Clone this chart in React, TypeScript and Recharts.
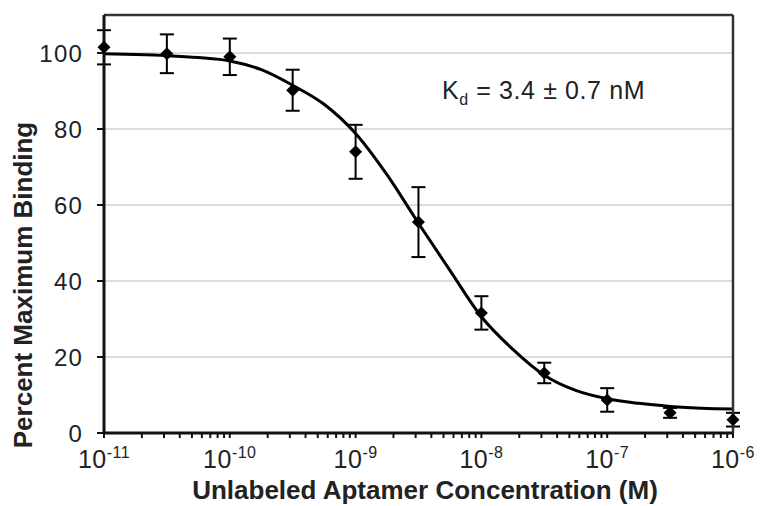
import React from 'react';
import { ComposedChart, Line, Scatter, ErrorBar, XAxis, YAxis, CartesianGrid } from 'recharts';

// Measured points (concentration in M, percent maximum binding, error)
const pointConc = [1e-11, 3.16e-11, 1e-10, 3.16e-10, 1e-9, 3.16e-9, 1e-8, 3.16e-8, 1e-7, 3.16e-7, 1e-6];
const pointBinding = [101.5, 99.8, 99.0, 90.2, 74.0, 55.5, 31.6, 15.8, 8.7, 5.3, 3.5];
const pointError = [4.5, 5.1, 4.8, 5.4, 7.1, 9.2, 4.4, 2.7, 3.1, 1.3, 1.8];

// Fitted curve
const fitConc = [
  1e-11, 1.78e-11, 3.16e-11, 5.62e-11, 1e-10, 1.78e-10, 3.16e-10, 5.62e-10, 1e-9, 1.78e-9, 3.16e-9,
  5.62e-9, 1e-8, 1.78e-8, 3.16e-8, 5.62e-8, 1e-7, 1.78e-7, 3.16e-7, 5.62e-7, 1e-6,
];
const fitBinding = [
  99.8, 99.6, 99.3, 98.8, 97.9, 95.6, 91.5, 86.5, 78.8, 67.9, 55.2, 42.8, 30.6, 22.0, 15.2, 11.2, 9.0,
  7.8, 7.0, 6.5, 6.3,
];

const majorTicks = [1e-11, 1e-10, 1e-9, 1e-8, 1e-7, 1e-6];
const majorTickExponents = ['-11', '-10', '-9', '-8', '-7', '-6'];
const minorMultipliers = [2, 3, 4, 5, 6, 7, 8, 9];
const minorDecades = [1e-11, 1e-10, 1e-9, 1e-8, 1e-7];
const yTicks = [0, 20, 40, 60, 80, 100];

const xDomain: [number, number] = [1e-11, 1e-6];
const yDomain: [number, number] = [0, 110];

const xTitle = 'Unlabeled Aptamer Concentration (M)';
const yTitle = 'Percent Maximum Binding';
const kdMain = 'K';
const kdSub = 'd';
const kdRest = ' = 3.4 ± 0.7 nM';

const FONT = '"Liberation Sans", Arial, Helvetica, sans-serif';

const pointData = pointConc.map((x, i) => ({ x, y: pointBinding[i], err: pointError[i] }));
const fitData = fitConc.map((x, i) => ({ x, y: fitBinding[i] }));
const minorTicks: number[] = [];
minorDecades.forEach((d) => minorMultipliers.forEach((m) => minorTicks.push(d * m)));
const allXTicks = [...majorTicks, ...minorTicks].sort((a, b) => a - b);

const findMajor = (v: number) =>
  majorTicks.findIndex((t) => Math.abs(Math.log10(t) - Math.log10(v)) < 1e-6);

const XTick = (props: any) => {
  const { x, y, payload } = props;
  const idx = findMajor(payload.value);
  if (idx < 0) return <g />;
  return (
    <text x={x} y={y + 28} textAnchor="middle" fontFamily={FONT} fontSize={25} fill="#222" letterSpacing={0.5}>
      10
      <tspan fontSize={16} dy={-10}>
        {majorTickExponents[idx]}
      </tspan>
    </text>
  );
};

const EmptyTick = () => <g />;

const YTick = (props: any) => {
  const { x, y, payload } = props;
  return (
    <text
      x={x}
      y={y}
      textAnchor="end"
      dominantBaseline="central"
      fontFamily={FONT}
      fontSize={24}
      fill="#222"
      letterSpacing={1.2}
    >
      {payload.value}
    </text>
  );
};

const Diamond = (props: any) => {
  const { cx, cy } = props;
  const r = 6.5;
  return <path d={`M${cx},${cy - r}L${cx + r},${cy}L${cx},${cy + r}L${cx - r},${cy}Z`} fill="#000" />;
};

export default function App() {
  return (
    <div style={{ position: 'absolute', left: 0, top: 0, width: 760, height: 506, background: '#fff' }}>
      <ComposedChart width={760} height={506} margin={{ top: 15, right: 27, bottom: 0, left: 0 }}>
        <CartesianGrid vertical={false} stroke="#dcdcdc" strokeWidth={2} />
        <XAxis
          type="number"
          scale="log"
          dataKey="x"
          domain={xDomain}
          ticks={allXTicks}
          interval={0}
          height={73}
          tickSize={5}
          tickMargin={2}
          tick={<XTick />}
          stroke="#000"
          tickLine={{ stroke: '#111', strokeWidth: 2 }}
          axisLine={{ stroke: '#111', strokeWidth: 3 }}
        />
        <XAxis
          xAxisId="up"
          type="number"
          scale="log"
          dataKey="x"
          domain={xDomain}
          ticks={majorTicks}
          interval={0}
          mirror
          tickSize={7}
          tick={<EmptyTick />}
          stroke="#111"
          tickLine={{ stroke: '#111', strokeWidth: 2 }}
          axisLine={false}
        />
        <XAxis
          xAxisId="top"
          orientation="top"
          type="number"
          scale="log"
          dataKey="x"
          domain={xDomain}
          mirror
          tick={false}
          tickLine={false}
          stroke="#333"
          axisLine={{ stroke: '#333', strokeWidth: 2.5 }}
        />
        <YAxis
          type="number"
          domain={yDomain}
          ticks={yTicks}
          interval={0}
          width={104}
          tickSize={7}
          tickMargin={14}
          tick={<YTick />}
          stroke="#000"
          tickLine={{ stroke: '#111', strokeWidth: 2 }}
          axisLine={{ stroke: '#111', strokeWidth: 3 }}
        />
        <YAxis
          yAxisId="right"
          orientation="right"
          type="number"
          domain={yDomain}
          mirror
          tick={false}
          tickLine={false}
          stroke="#333"
          axisLine={{ stroke: '#333', strokeWidth: 2.5 }}
        />
        <Line
          data={fitData}
          dataKey="y"
          type="monotone"
          stroke="#000"
          strokeWidth={3}
          dot={false}
          activeDot={false}
          isAnimationActive={false}
        />
        <Scatter data={pointData} dataKey="y" shape={<Diamond />} isAnimationActive={false}>
          <ErrorBar dataKey="err" direction="y" width={7} stroke="#000" strokeWidth={2} isAnimationActive={false} />
        </Scatter>
      </ComposedChart>
      <svg width={760} height={506} style={{ position: 'absolute', left: 0, top: 0, pointerEvents: 'none' }}>
        <text x={442} y={99} fontFamily={FONT} fontSize={25} fill="#222" letterSpacing={0.6}>
          {kdMain}
          <tspan fontSize={16} dy={6}>
            {kdSub}
          </tspan>
          <tspan dy={-6}>{kdRest}</tspan>
        </text>
        <text x={425} y={499} textAnchor="middle" fontFamily={FONT} fontSize={26} fontWeight="bold" fill="#222">
          {xTitle}
        </text>
        <text
          x={0}
          y={0}
          transform="translate(32,285) rotate(-90)"
          textAnchor="middle"
          fontFamily={FONT}
          fontSize={26}
          fontWeight="bold"
          fill="#222"
        >
          {yTitle}
        </text>
      </svg>
    </div>
  );
}
